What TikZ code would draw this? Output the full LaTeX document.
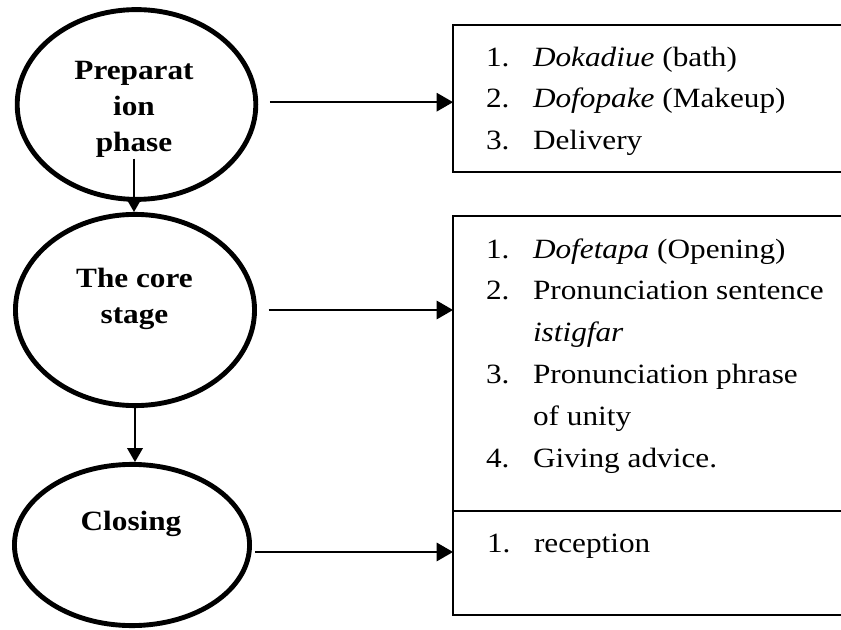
\documentclass[tikz,border=0pt]{standalone}
\usepackage{fontspec}
\setmainfont{Liberation Serif}[FakeStretch=1.12]
\usepackage{tikz}
\usetikzlibrary{shapes}
\usetikzlibrary{arrows}
\tikzstyle{stage}=[ellipse,draw=black,line width=2.1pt,inner sep=0mm]
\tikzstyle{stagetext}=[align=center,inner sep=0mm,font=\fontsize{12}{15.5}\selectfont\bfseries]
\tikzstyle{box}=[rectangle,draw=black,anchor=north west,minimum width=180pt,outer sep=0mm,line width=0.6pt]
\tikzstyle{items}=[anchor=north west,inner sep=0mm,font=\fontsize{12}{18}\selectfont]
\tikzstyle{arrow}=[->,>=triangle 60]
\tikzset{every picture/.style={
    line width=0.9pt
  }
}

\begin{document}
\begin{tikzpicture}[x=0.43pt,y=-0.43pt]
      \useasboundingbox (0,0) rectangle (841,630);
      \node[stage, minimum width=102.6pt, minimum height=81.6pt] at (136.5,104.5) (s1) {};
      \node[stage, minimum width=102.8pt, minimum height=82.2pt] at (135,310) (s2) {};
      \node[stage, minimum width=101.1pt, minimum height=69.3pt] at (132,545) (s3) {};
      \node[stagetext] at (134,109.5) (t1) {Preparat\\ion\\phase};
      \node[stagetext] at (134.5,298.5) (t2) {The core\\stage};
      \node[stagetext] at (131,523.5) (t3) {Closing};
      \node[box, minimum height=63.2pt] at (453,25) (b1) {};
      \node[box, minimum height=126.9pt] at (453,216) (b2) {};
      \node[box, minimum height=44.7pt] at (453,511) (b3) {};
      \node[items] at (485,35.7) (l1) {\begin{tabular}{@{}p{20.2pt}@{}l@{}}
        1. & \textit{Dokadiue} (bath)\\
        2. & \textit{Dofopake} (Makeup)\\
        3. & Delivery
      \end{tabular}};
      \node[items] at (485,227.7) (l2) {\begin{tabular}{@{}p{20.2pt}@{}l@{}}
        1. & \textit{Dofetapa} (Opening)\\
        2. & Pronunciation sentence\\
           & \textit{istigfar}\\
        3. & Pronunciation phrase\\
           & of unity\\
        4. & Giving advice.
      \end{tabular}};
      \node[items] at (486,521.7) (l3) {\begin{tabular}{@{}p{20.2pt}@{}l@{}}
        1. & reception
      \end{tabular}};
      \draw[arrow, line width=0.6pt] (t1.south) -- (t1.south |- s2.north);
      \draw[arrow, line width=0.6pt] (s2.south) -- (s2.south |- s3.north);
      \draw[arrow, shorten <=5pt] ([yshift=1pt]s1.east) -- ([yshift=1pt]s1.east -| b1.west);
      \draw[arrow, shorten <=5pt] (s2.east) -- (s2.east -| b2.west);
      \draw[arrow, shorten <=1.5pt] ([yshift=-3pt]s3.east) -- ([yshift=-3pt]s3.east -| b3.west);
    \end{tikzpicture}
\end{document}
